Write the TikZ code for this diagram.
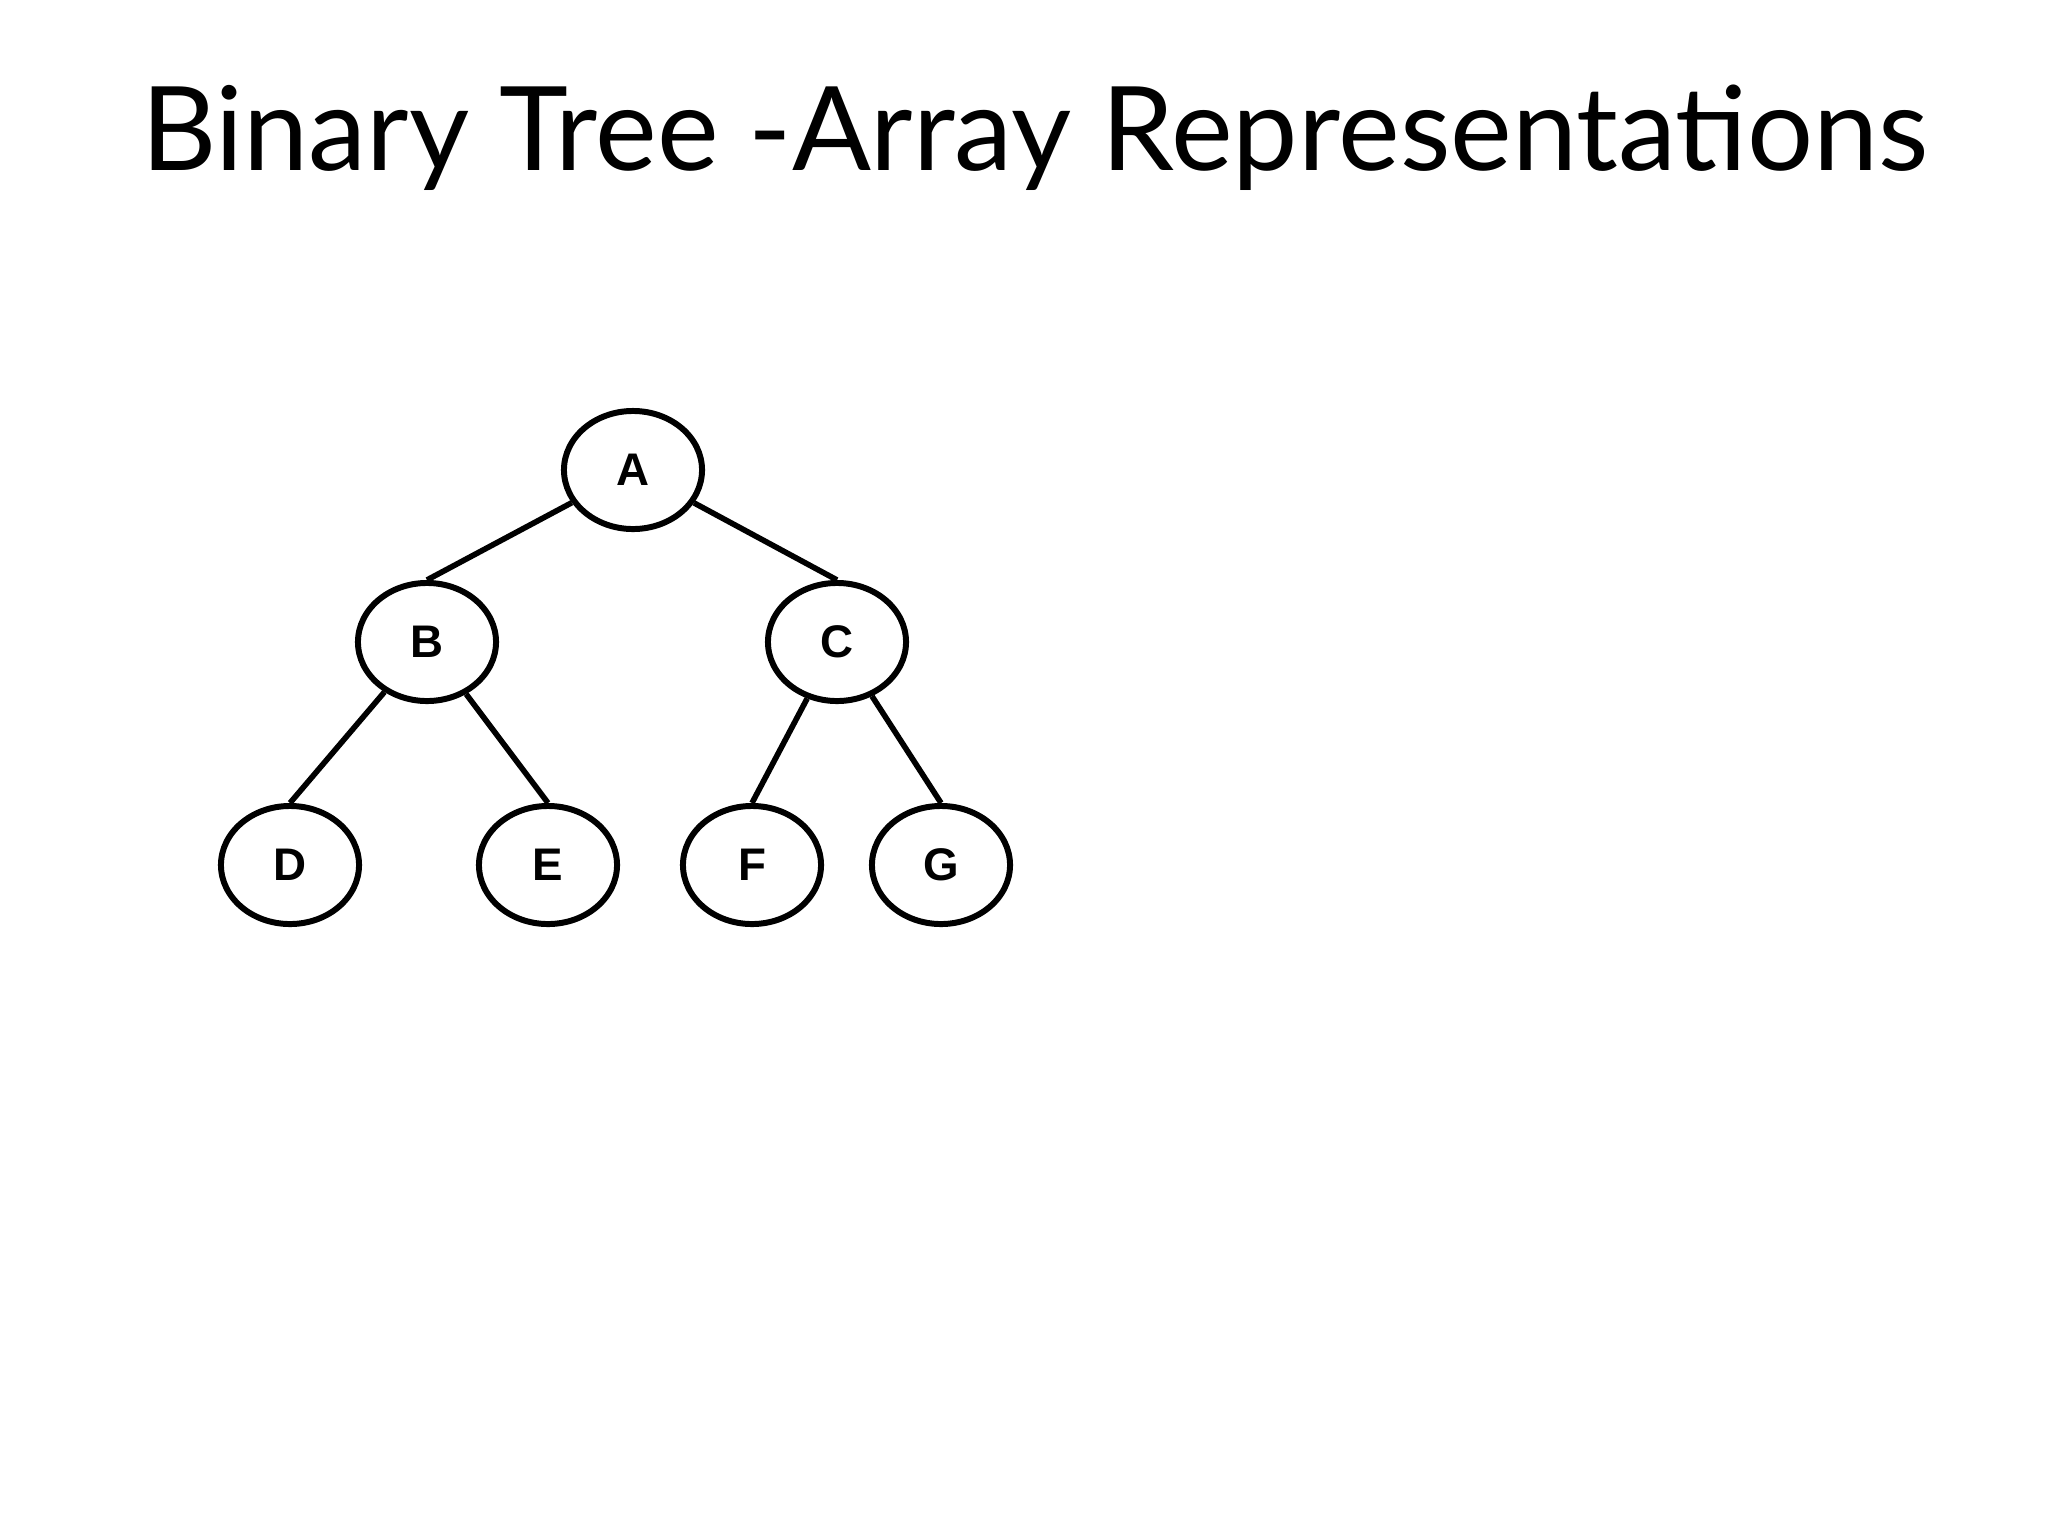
\documentclass[tikz,border=0pt]{standalone}
\usepackage{fontspec}
\setmainfont{Lato}
\newfontfamily\lab{Liberation Sans}
\usetikzlibrary{shapes.geometric}
\begin{document}
\begin{tikzpicture}[x=0.01cm,y=-0.01cm,
  tn/.style={ellipse,draw,line width=1.7pt,minimum width=1.38cm,minimum height=1.18cm,inner sep=0pt,font=\lab\bfseries\fontsize{13}{14}\selectfont},
  ed/.style={line width=1.6pt}]
\useasboundingbox (0,0) rectangle (2048,1536);
\node[anchor=base,font=\fontsize{33.2}{36}\selectfont] (title) at (1035,170) {Binary Tree -Array Representations};
\node[tn] (A) at (633,470) {A};
\node[tn] (B) at (427,642) {B};
\node[tn] (C) at (837,642) {C};
\node[tn] (D) at (290,865) {D};
\node[tn] (E) at (548,865) {E};
\node[tn] (F) at (752,865) {F};
\node[tn] (G) at (941,865) {G};
\draw[ed] (A) -- (B.north);
\draw[ed] (A) -- (C.north);
\draw[ed] (B) -- (D.north);
\draw[ed] (B) -- (E.north);
\draw[ed] (C) -- (F.north);
\draw[ed] (C) -- (G.north);
\end{tikzpicture}
\end{document}
